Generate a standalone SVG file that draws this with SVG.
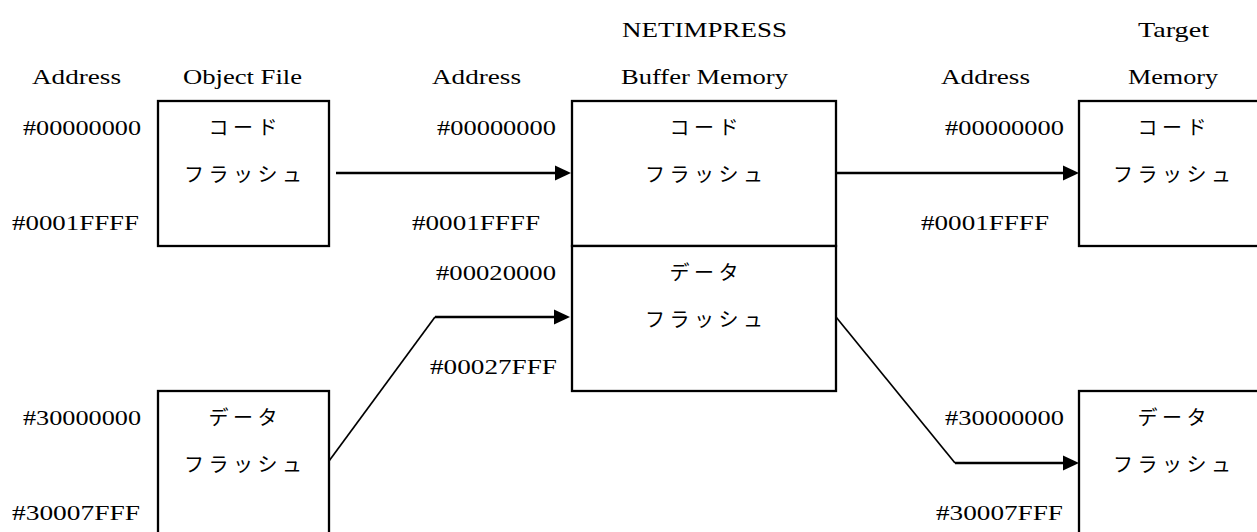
<svg xmlns="http://www.w3.org/2000/svg" width="1257" height="532" viewBox="0 0 1257 532">
<style>
.box{fill:#fff;stroke:#000;stroke-width:2.3}
.t{font-family:"Liberation Serif","Times New Roman",serif;font-size:22px;fill:#000}
.jp{font-family:"Noto Sans CJK JP","Noto Sans CJK SC",sans-serif;font-size:20px;letter-spacing:4.5px;fill:#000}
.arr{fill:none;stroke:#000;stroke-width:2.6;marker-end:url(#ah)}
.dg{fill:none;stroke:#000;stroke-width:1.7;stroke-linejoin:miter}
</style>
<defs>
<marker id="ah" markerUnits="userSpaceOnUse" markerWidth="16" markerHeight="16" viewBox="0 0 16 16" refX="8" refY="8" orient="auto">
<path d="M0,0.5 L16,8 L0,15.5 Z" fill="#000"/>
</marker>
</defs>
<rect width="1257" height="532" fill="#fff"/>

<g id="headers">
<text class="t" x="622" y="37" textLength="165" lengthAdjust="spacingAndGlyphs">NETIMPRESS</text>
<text class="t" x="1138" y="37" textLength="71" lengthAdjust="spacingAndGlyphs">Target</text>
<text class="t" x="32" y="84" textLength="89" lengthAdjust="spacingAndGlyphs">Address</text>
<text class="t" x="183" y="84" textLength="119" lengthAdjust="spacingAndGlyphs">Object File</text>
<text class="t" x="432" y="84" textLength="89" lengthAdjust="spacingAndGlyphs">Address</text>
<text class="t" x="621" y="84" textLength="167" lengthAdjust="spacingAndGlyphs">Buffer Memory</text>
<text class="t" x="941" y="84" textLength="89" lengthAdjust="spacingAndGlyphs">Address</text>
<text class="t" x="1128" y="84" textLength="90" lengthAdjust="spacingAndGlyphs">Memory</text>
</g>

<g id="addresses">
<text class="t" x="23" y="135" textLength="118" lengthAdjust="spacingAndGlyphs">#00000000</text>
<text class="t" x="12" y="230" textLength="127" lengthAdjust="spacingAndGlyphs">#0001FFFF</text>
<text class="t" x="23" y="425" textLength="118" lengthAdjust="spacingAndGlyphs">#30000000</text>
<text class="t" x="12" y="520" textLength="128" lengthAdjust="spacingAndGlyphs">#30007FFF</text>
<text class="t" x="437" y="135" textLength="119" lengthAdjust="spacingAndGlyphs">#00000000</text>
<text class="t" x="412" y="230" textLength="128" lengthAdjust="spacingAndGlyphs">#0001FFFF</text>
<text class="t" x="436" y="280" textLength="120" lengthAdjust="spacingAndGlyphs">#00020000</text>
<text class="t" x="430" y="374" textLength="127" lengthAdjust="spacingAndGlyphs">#00027FFF</text>
<text class="t" x="945" y="135" textLength="119" lengthAdjust="spacingAndGlyphs">#00000000</text>
<text class="t" x="921" y="230" textLength="128" lengthAdjust="spacingAndGlyphs">#0001FFFF</text>
<text class="t" x="945" y="425" textLength="119" lengthAdjust="spacingAndGlyphs">#30000000</text>
<text class="t" x="936" y="520" textLength="127" lengthAdjust="spacingAndGlyphs">#30007FFF</text>
</g>

<g id="obj-code">
<rect class="box" x="158" y="101" width="171" height="145"/>
<text class="jp" x="208.5" y="135">コード</text>
<text class="jp" x="184" y="182">フラッシュ</text>
</g>
<g id="obj-data">
<rect class="box" x="158" y="391" width="171" height="160"/>
<text class="jp" x="208.5" y="425">データ</text>
<text class="jp" x="184" y="472">フラッシュ</text>
</g>
<g id="buf-code">
<rect class="box" x="572" y="101" width="264" height="145"/>
<text class="jp" x="669.5" y="135">コード</text>
<text class="jp" x="645" y="182">フラッシュ</text>
</g>
<g id="buf-data">
<rect class="box" x="572" y="246" width="264" height="145"/>
<text class="jp" x="669.5" y="280">データ</text>
<text class="jp" x="645" y="327">フラッシュ</text>
</g>
<g id="tgt-code">
<rect class="box" x="1079" y="101" width="190" height="145"/>
<text class="jp" x="1137.5" y="135">コード</text>
<text class="jp" x="1113" y="182">フラッシュ</text>
</g>
<g id="tgt-data">
<rect class="box" x="1079" y="391" width="190" height="160"/>
<text class="jp" x="1137.5" y="425">データ</text>
<text class="jp" x="1113" y="472">フラッシュ</text>
</g>

<g id="connectors">
<path class="arr" d="M336,173 H563"/>
<path class="arr" d="M836,173 H1071"/>
<path class="dg" d="M329,461 L435,317"/>
<path class="arr" d="M435,317 H562"/>
<path class="dg" d="M836,317 L955,463"/>
<path class="arr" d="M955,463 H1071"/>
</g>
</svg>
